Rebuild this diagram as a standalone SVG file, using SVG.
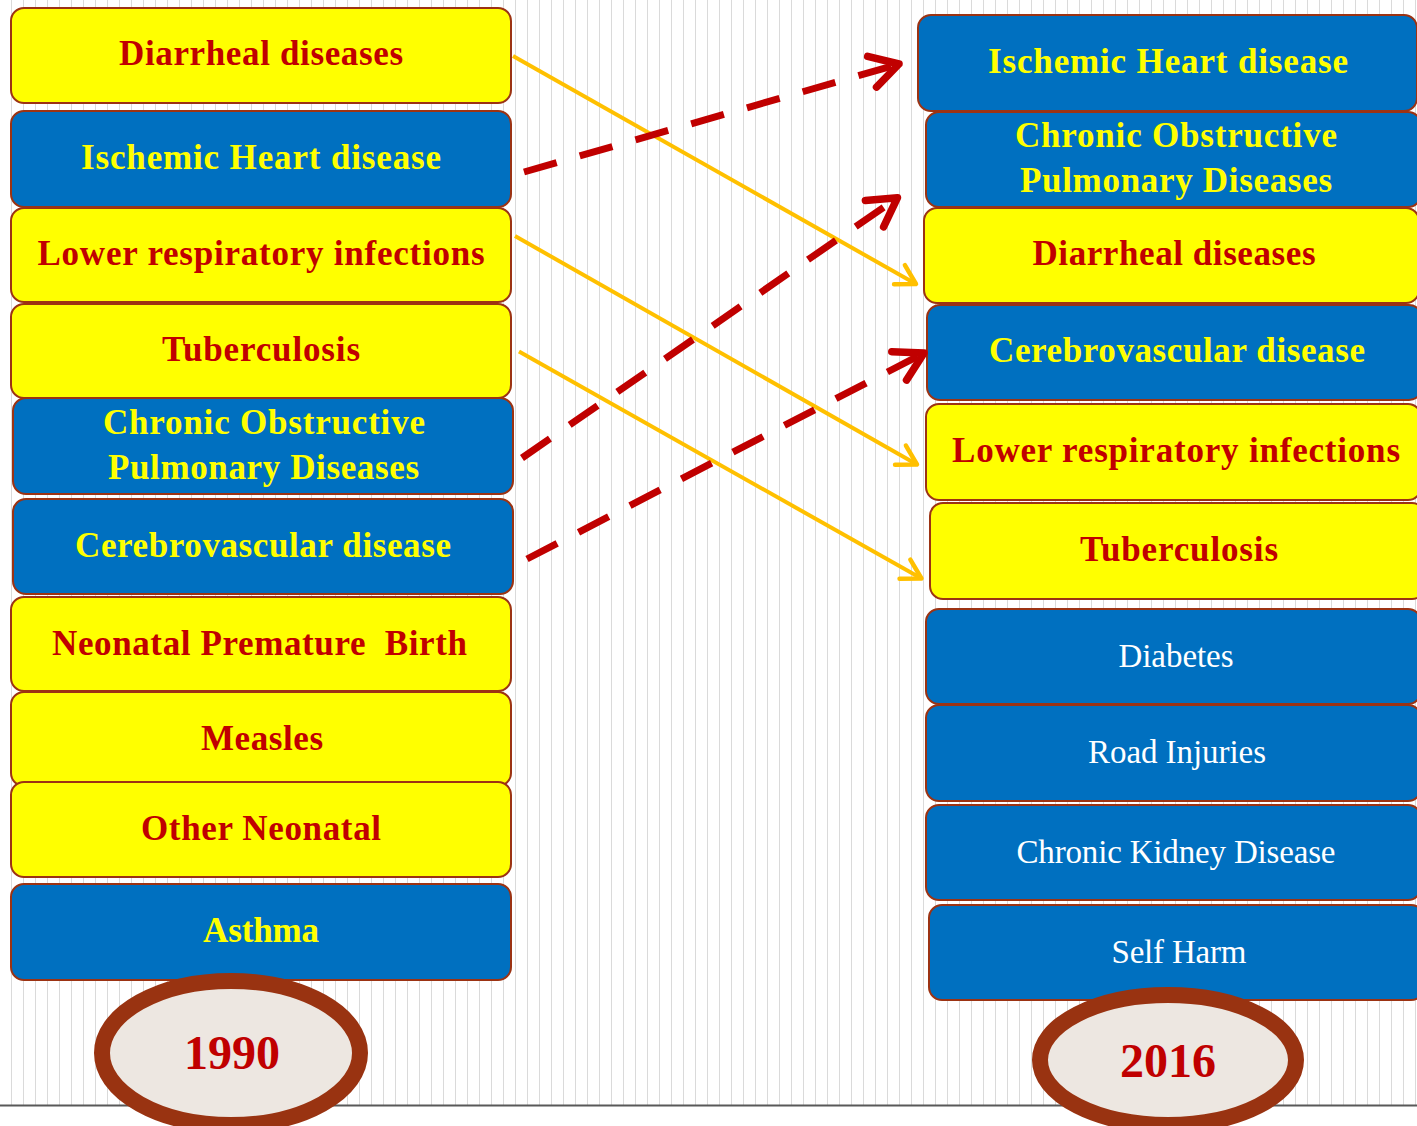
<svg xmlns="http://www.w3.org/2000/svg" width="1417" height="1126" viewBox="0 0 1417 1126">
<style>
.y{fill:#FFFF00;stroke:#9C3313;stroke-width:2}
.b{fill:#0070C0;stroke:#9C3313;stroke-width:2}
.tr{font-family:"Liberation Serif",serif;font-weight:bold;font-size:35px;fill:#C00000;text-anchor:middle}
.ty{font-family:"Liberation Serif",serif;font-weight:bold;font-size:35px;fill:#FFFF00;text-anchor:middle}
.tw{font-family:"Liberation Serif",serif;font-size:33px;fill:#FFFFFF;text-anchor:middle}
.yr{font-family:"Liberation Serif",serif;font-weight:bold;font-size:48px;fill:#C00000;text-anchor:middle}
.ell{fill:#EDE7E1;stroke:#993311;stroke-width:16}
.og{fill:none;stroke:#FFC000;stroke-width:4}
.rd{fill:none;stroke:#C00000;stroke-width:7;stroke-dasharray:34 24}
</style>
<defs>
<pattern id="stripes" x="0" y="0" width="12" height="20" patternUnits="userSpaceOnUse">
<rect x="11" y="0" width="1.6" height="20" fill="#DADADA"/>
</pattern>
<marker id="ao" markerUnits="userSpaceOnUse" viewBox="-30 -20 40 40" refX="0" refY="0" markerWidth="40" markerHeight="40" orient="auto">
<path d="M -19 -11 L 0 0 L -19 11" fill="none" stroke="#FFC000" stroke-width="4.5" stroke-linecap="round" stroke-linejoin="round"/>
</marker>
<marker id="ar" markerUnits="userSpaceOnUse" viewBox="-40 -25 50 50" refX="0" refY="0" markerWidth="50" markerHeight="50" orient="auto">
<path d="M -28 -16 L 0 0 L -28 16" fill="none" stroke="#C00000" stroke-width="7.5" stroke-linecap="round" stroke-linejoin="round" stroke-dasharray="none"/>
</marker>
</defs>
<rect x="0" y="0" width="1417" height="1126" fill="#FFFFFF"/>
<rect x="0" y="0" width="1417" height="1105" fill="url(#stripes)"/>
<line x1="0" y1="1105.5" x2="1417" y2="1105.5" stroke="#595959" stroke-width="2"/>

<g id="left-diarrheal"><rect class="y" x="11" y="8" width="500" height="95" rx="13"/><text class="tr" x="261" y="65" textLength="284" lengthAdjust="spacing">Diarrheal diseases</text></g>
<g id="left-ischemic"><rect class="b" x="11" y="111" width="500" height="96" rx="13"/><text class="ty" x="261" y="169" textLength="360" lengthAdjust="spacing">Ischemic Heart disease</text></g>
<g id="left-lower"><rect class="y" x="11" y="208" width="500" height="94" rx="13"/><text class="tr" x="261" y="265" textLength="447" lengthAdjust="spacing">Lower respiratory infections</text></g>
<g id="left-tb"><rect class="y" x="11" y="304" width="500" height="94" rx="13"/><text class="tr" x="261" y="361" textLength="198" lengthAdjust="spacing">Tuberculosis</text></g>
<g id="left-copd"><rect class="b" x="13" y="398" width="500" height="96" rx="13"/><text class="ty" x="264" y="434" textLength="322" lengthAdjust="spacing">Chronic Obstructive</text><text class="ty" x="263.5" y="479" textLength="311" lengthAdjust="spacing">Pulmonary Diseases</text></g>
<g id="left-cerebro"><rect class="b" x="13" y="499" width="500" height="95" rx="13"/><text class="ty" x="263" y="557" textLength="376" lengthAdjust="spacing">Cerebrovascular disease</text></g>
<g id="left-neonatal"><rect class="y" x="11" y="597" width="500" height="94" rx="13"/><text class="tr" x="259.5" y="655" textLength="415" lengthAdjust="spacing" xml:space="preserve">Neonatal Premature  Birth</text></g>
<g id="left-measles"><rect class="y" x="11" y="692" width="500" height="94" rx="13"/><text class="tr" x="262" y="750" textLength="122" lengthAdjust="spacing">Measles</text></g>
<g id="left-other"><rect class="y" x="11" y="782" width="500" height="95" rx="13"/><text class="tr" x="261" y="840" textLength="240" lengthAdjust="spacing">Other Neonatal</text></g>
<g id="left-asthma"><rect class="b" x="11" y="884" width="500" height="96" rx="13"/><text class="ty" x="261" y="942" textLength="116" lengthAdjust="spacing">Asthma</text></g>

<g id="right-ischemic"><rect class="b" x="918" y="15" width="499" height="96" rx="13"/><text class="ty" x="1168" y="73" textLength="360" lengthAdjust="spacing">Ischemic Heart disease</text></g>
<g id="right-copd"><rect class="b" x="926" y="112" width="495" height="95" rx="13"/><text class="ty" x="1176" y="147" textLength="322" lengthAdjust="spacing">Chronic Obstructive</text><text class="ty" x="1176" y="192" textLength="312" lengthAdjust="spacing">Pulmonary Diseases</text></g>
<g id="right-diarrheal"><rect class="y" x="924" y="208" width="495" height="95" rx="13"/><text class="tr" x="1174" y="265" textLength="283" lengthAdjust="spacing">Diarrheal diseases</text></g>
<g id="right-cerebro"><rect class="b" x="927" y="305" width="495" height="95" rx="13"/><text class="ty" x="1177" y="362" textLength="376" lengthAdjust="spacing">Cerebrovascular disease</text></g>
<g id="right-lower"><rect class="y" x="926" y="404" width="495" height="96" rx="13"/><text class="tr" x="1176" y="462" textLength="448" lengthAdjust="spacing">Lower respiratory infections</text></g>
<g id="right-tb"><rect class="y" x="930" y="503" width="495" height="96" rx="13"/><text class="tr" x="1179" y="561" textLength="198" lengthAdjust="spacing">Tuberculosis</text></g>
<g id="right-diabetes"><rect class="b" x="926" y="609" width="495" height="95" rx="13"/><text class="tw" x="1176" y="667" textLength="115" lengthAdjust="spacing">Diabetes</text></g>
<g id="right-road"><rect class="b" x="926" y="705" width="495" height="96" rx="13"/><text class="tw" x="1177" y="763" textLength="178" lengthAdjust="spacing">Road Injuries</text></g>
<g id="right-ckd"><rect class="b" x="926" y="805" width="495" height="95" rx="13"/><text class="tw" x="1176" y="863" textLength="319" lengthAdjust="spacing">Chronic Kidney Disease</text></g>
<g id="right-selfharm"><rect class="b" x="929" y="905" width="495" height="95" rx="13"/><text class="tw" x="1179" y="963" textLength="135" lengthAdjust="spacing">Self Harm</text></g>

<g id="connectors">
<line class="og" x1="513" y1="56" x2="916" y2="284" marker-end="url(#ao)"/>
<line class="og" x1="515" y1="236" x2="917" y2="464.5" marker-end="url(#ao)"/>
<line class="og" x1="519" y1="351.5" x2="921.5" y2="578.5" marker-end="url(#ao)"/>
<line class="rd" x1="524" y1="172" x2="899" y2="64" marker-end="url(#ar)"/>
<line class="rd" x1="522" y1="458" x2="897.5" y2="197.7" marker-end="url(#ar)"/>
<line class="rd" x1="527" y1="559" x2="924" y2="353" marker-end="url(#ar)"/>
</g>

<g id="year-1990"><ellipse class="ell" cx="231" cy="1053" rx="129" ry="72"/><text class="yr" x="232" y="1069">1990</text></g>
<g id="year-2016"><ellipse class="ell" cx="1168" cy="1060" rx="128" ry="65"/><text class="yr" x="1168" y="1077">2016</text></g>
</svg>
